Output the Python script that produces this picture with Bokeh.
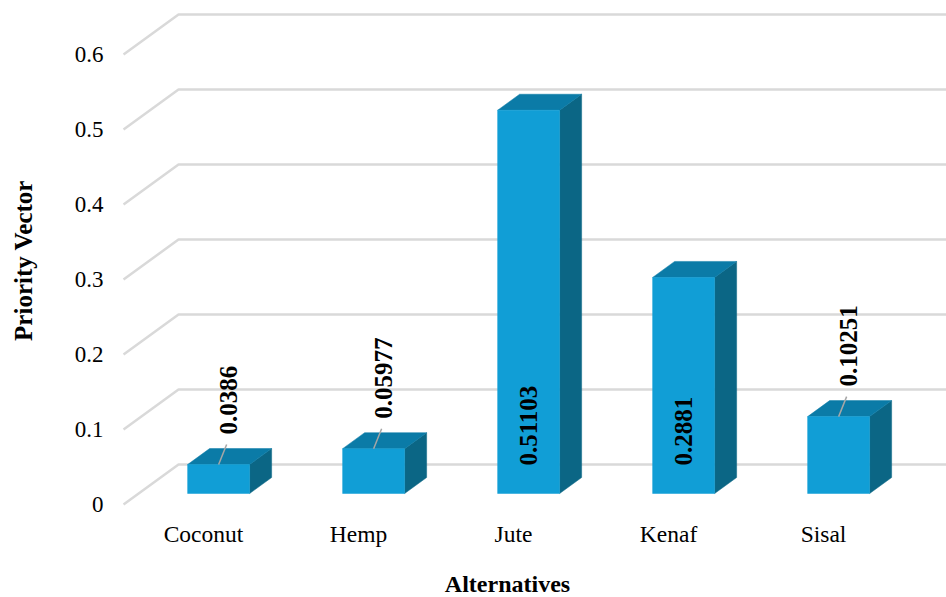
import math
from bokeh.plotting import figure
from bokeh.models import Range1d, Label
from bokeh.core.properties import value
from bokeh.embed import file_html
from bokeh.resources import INLINE

# ---- data ----
categories = ["Coconut", "Hemp", "Jute", "Kenaf", "Sisal"]
priority = [0.0386, 0.05977, 0.51103, 0.2881, 0.10251]
value_labels = ["0.0386", "0.05977", "0.51103", "0.2881", "0.10251"]
y_ticks = [0, 0.1, 0.2, 0.3, 0.4, 0.5, 0.6]
y_tick_labels = ["0", "0.1", "0.2", "0.3", "0.4", "0.5", "0.6"]

# ---- pseudo-3D geometry (pixels per data unit and depth slant) ----
W, H = 946, 597
PX_X = 155.0          # pixels per category
PX_Y = 750.0          # pixels per unit of priority
SLANT_X = 55.0        # horizontal shift from back wall to front edge (px)
SLANT_Y = 40.0        # vertical shift from back wall to front edge (px)
BAR_FRONT, BAR_BACK = 0.725, 0.325   # depth of bar faces (0 = wall, 1 = front)
HALF_W = 0.2          # half bar width, in category units
FLOOR_LEFT = -0.516
FLOOR_RIGHT = 4.7

FONT = value("Liberation Serif")
FRONT_C, TOP_C, SIDE_C = "#119ed6", "#0b7ba7", "#0b6685"
GRID_C = "#d9d9d9"


def at(x, v, d):
    """Project a (category, value, depth) point onto the back-wall data plane."""
    return x - SLANT_X * d / PX_X, v - SLANT_Y * d / PX_Y


p = figure(width=W, height=H,
           x_range=Range1d(-258.0 / PX_X, (W - 258.0) / PX_X),
           y_range=Range1d(-133.0 / PX_Y, (H - 133.0) / PX_Y),
           output_backend="svg", toolbar_location=None, min_border=0)
p.axis.visible = False
p.grid.visible = False
p.outline_line_color = None
p.background_fill_color = "white"
p.border_fill_color = "white"

# ---- gridlines: slanted floor edge + back wall line ----
gx, gy = [], []
for t in y_ticks:
    x0, y0 = at(FLOOR_LEFT, t, 1)
    x1, y1 = at(FLOOR_LEFT, t, 0)
    x2, y2 = at(FLOOR_RIGHT, t, 0)
    gx.append([x0, x1, x2])
    gy.append([y0, y1, y2])
p.multi_line(gx, gy, line_color=GRID_C, line_width=2.5)

# ---- y tick labels along the front edge ----
tx, ty = zip(*[at(FLOOR_LEFT, t, 1) for t in y_ticks])
p.text(x=list(tx), y=list(ty), text=y_tick_labels, x_offset=-20, y_offset=0,
       text_align="right", text_baseline="middle", text_font=FONT,
       text_font_size="23px", text_color="black")

# ---- bars ----
front_xs, front_ys, top_xs, top_ys, side_xs, side_ys = [], [], [], [], [], []
for i, v in enumerate(priority):
    fl0 = at(i - HALF_W, 0, BAR_FRONT)
    fr0 = at(i + HALF_W, 0, BAR_FRONT)
    fl1 = at(i - HALF_W, v, BAR_FRONT)
    fr1 = at(i + HALF_W, v, BAR_FRONT)
    bl1 = at(i - HALF_W, v, BAR_BACK)
    br1 = at(i + HALF_W, v, BAR_BACK)
    br0 = at(i + HALF_W, 0, BAR_BACK)
    for pts, xs, ys in (([fl0, fr0, fr1, fl1], front_xs, front_ys),
                        ([fl1, fr1, br1, bl1], top_xs, top_ys),
                        ([fr0, br0, br1, fr1], side_xs, side_ys)):
        xs.append([q[0] for q in pts])
        ys.append([q[1] for q in pts])

p.patches(side_xs, side_ys, fill_color=SIDE_C, line_color=SIDE_C, line_width=0.5)
p.patches(top_xs, top_ys, fill_color=TOP_C, line_color=TOP_C, line_width=0.5)
p.patches(front_xs, front_ys, fill_color=FRONT_C, line_color=FRONT_C, line_width=0.5)

# ---- value labels: inside tall bars, above short bars with a leader line ----
in_x, in_y, in_t = [], [], []
out_x, out_y, out_t = [], [], []
lead_x0, lead_y0, lead_x1, lead_y1 = [], [], [], []
for i, (v, lab) in enumerate(zip(priority, value_labels)):
    if v > 0.2:
        bx, by = at(i, 0, BAR_FRONT)
        in_x.append(bx); in_y.append(by); in_t.append(lab)
    else:
        cx, cy = at(i, v, BAR_FRONT)
        lead_x0.append(cx); lead_y0.append(cy)
        lead_x1.append(cx + 8 / PX_X); lead_y1.append(cy + 20 / PX_Y)
        out_x.append(cx); out_y.append(cy); out_t.append(lab)

p.segment(lead_x0, lead_y0, lead_x1, lead_y1, line_color="#a6a6a6", line_width=1.5)
p.text(x=out_x, y=out_y, text=out_t, angle=math.pi / 2, x_offset=10, y_offset=-30,
       text_align="left", text_baseline="middle", text_font=FONT,
       text_font_style="bold", text_font_size="25px", text_color="black")
p.text(x=in_x, y=in_y, text=in_t, angle=math.pi / 2, x_offset=0, y_offset=-28,
       text_align="left", text_baseline="middle", text_font=FONT,
       text_font_style="bold", text_font_size="25px", text_color="black")

# ---- category labels below the floor's front edge ----
cxs, cys = zip(*[at(i, 0, 1) for i in range(len(categories))])
p.text(x=list(cxs), y=list(cys), text=categories, y_offset=29,
       text_align="center", text_baseline="middle", text_font=FONT,
       text_font_size="23.5px", text_color="black")

# ---- axis titles ----
p.add_layout(Label(x=23, y=H - 260, x_units="screen", y_units="screen",
                   text="Priority Vector", angle=math.pi / 2, text_align="center",
                   text_baseline="middle", text_font="Liberation Serif",
                   text_font_style="bold", text_font_size="25px", text_color="black"))
p.add_layout(Label(x=507, y=H - 583, x_units="screen", y_units="screen",
                   text="Alternatives", text_align="center", text_baseline="middle",
                   text_font="Liberation Serif", text_font_style="bold",
                   text_font_size="24px", text_color="black"))

open("out.html", "w").write(file_html(p, INLINE))
